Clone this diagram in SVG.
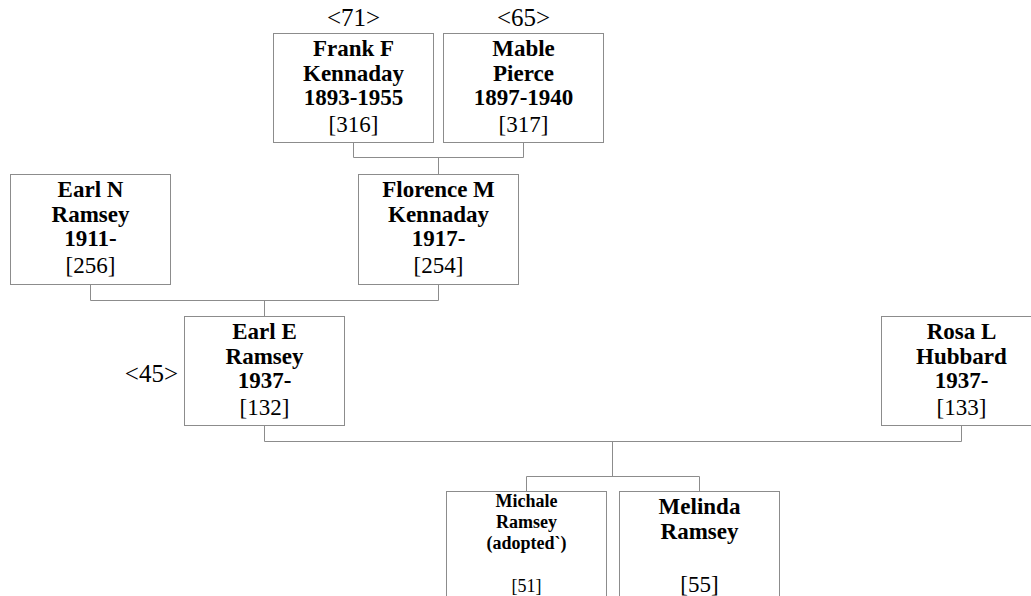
<svg xmlns="http://www.w3.org/2000/svg" width="1031" height="596" viewBox="0 0 1031 596">
<style>
.box{fill:#fff;stroke:#8c8c8c;stroke-width:1}
.ln{fill:none;stroke:#8c8c8c;stroke-width:1}
text{font-family:"Liberation Serif","Times New Roman",serif;fill:#000;text-anchor:middle}
.n{font-weight:bold;font-size:23px}
.i{font-size:23px}
.s{font-weight:bold;font-size:18px}
.si{font-size:18px}
.m{font-size:25px}
</style>
<rect width="1031" height="596" fill="#fff"/>
<g id="connectors">
<path class="ln" d="M353.5 143V157.5H523.5V143M438.5 157.5V174"/>
<path class="ln" d="M90.5 285V300.5H438.5V285M264.5 300.5V316"/>
<path class="ln" d="M264.5 426V441.5H961.5V426M612.5 441.5V476.5"/>
<path class="ln" d="M526.5 491V476.5H699.5V491"/>
</g>
<g id="frank">
<text class="m" x="353.5" y="26">&lt;71&gt;</text>
<rect class="box" x="273.5" y="33.5" width="160" height="109"/>
<text class="n" x="353.5" y="56">Frank F</text>
<text class="n" x="353.5" y="80.5">Kennaday</text>
<text class="n" x="353.5" y="105">1893-1955</text>
<text class="i" x="353.5" y="131.5">[316]</text>
</g>
<g id="mable">
<text class="m" x="523.5" y="26">&lt;65&gt;</text>
<rect class="box" x="443.5" y="33.5" width="160" height="109"/>
<text class="n" x="523.5" y="56">Mable</text>
<text class="n" x="523.5" y="80.5">Pierce</text>
<text class="n" x="523.5" y="105">1897-1940</text>
<text class="i" x="523.5" y="131.5">[317]</text>
</g>
<g id="earln">
<rect class="box" x="10.5" y="174.5" width="160" height="110"/>
<text class="n" x="90.5" y="197">Earl N</text>
<text class="n" x="90.5" y="221.5">Ramsey</text>
<text class="n" x="90.5" y="246">1911-</text>
<text class="i" x="90.5" y="272.5">[256]</text>
</g>
<g id="florence">
<rect class="box" x="358.5" y="174.5" width="160" height="110"/>
<text class="n" x="438.5" y="197">Florence M</text>
<text class="n" x="438.5" y="221.5">Kennaday</text>
<text class="n" x="438.5" y="246">1917-</text>
<text class="i" x="438.5" y="272.5">[254]</text>
</g>
<g id="earle">
<text class="m" x="178" y="381.5" style="text-anchor:end">&lt;45&gt;</text>
<rect class="box" x="184.5" y="316.5" width="160" height="109"/>
<text class="n" x="264.5" y="339">Earl E</text>
<text class="n" x="264.5" y="363.5">Ramsey</text>
<text class="n" x="264.5" y="388">1937-</text>
<text class="i" x="264.5" y="414.5">[132]</text>
</g>
<g id="rosa">
<rect class="box" x="881.5" y="316.5" width="160" height="109"/>
<text class="n" x="961.5" y="339">Rosa L</text>
<text class="n" x="961.5" y="363.5">Hubbard</text>
<text class="n" x="961.5" y="388">1937-</text>
<text class="i" x="961.5" y="414.5">[133]</text>
</g>
<g id="michale">
<rect class="box" x="446.5" y="491.5" width="160" height="120"/>
<text class="s" x="526.5" y="507">Michale</text>
<text class="s" x="526.5" y="528">Ramsey</text>
<text class="s" x="526.5" y="548.5">(adopted`)</text>
<text class="si" x="526.5" y="592">[51]</text>
</g>
<g id="melinda">
<rect class="box" x="619.5" y="491.5" width="160" height="120"/>
<text class="n" x="699.5" y="513.5">Melinda</text>
<text class="n" x="699.5" y="539">Ramsey</text>
<text class="i" x="699.5" y="591.5">[55]</text>
</g>
</svg>
